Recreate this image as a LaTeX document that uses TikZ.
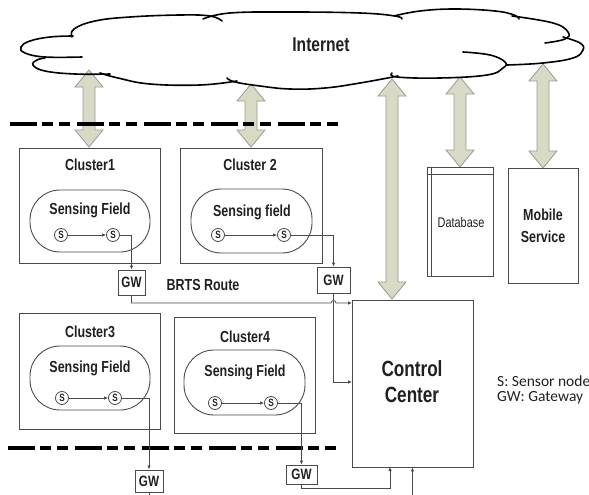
\documentclass[tikz,border=0pt]{standalone}
\usepackage{fontspec}
\setmainfont{Liberation Sans}
\newfontfamily\narrowsf[FakeStretch=0.78]{Liberation Sans}
\newfontfamily\legendsf{Carlito}
\usetikzlibrary{calc,arrows.meta}

\definecolor{boxgray}{HTML}{4A4A4A}
\definecolor{inkgray}{HTML}{202020}
\definecolor{fatfill}{HTML}{D8DAC6}
\definecolor{fatedge}{HTML}{9A9B90}

% vertical double-headed block arrow between two tip points (#1 upper, #2 lower)
\newcommand\fatarrow[2]{%
  \draw[fatarrow] let \p1=(#1), \p2=(#2) in
    (\x1,\y1) -- (\x1+14pt,\y1-17pt) -- (\x1+6pt,\y1-17pt) -- (\x1+6pt,\y2+17pt)
    -- (\x1+14pt,\y2+17pt) -- (\x1,\y2) -- (\x1-14pt,\y2+17pt) -- (\x1-6pt,\y2+17pt)
    -- (\x1-6pt,\y1-17pt) -- (\x1-14pt,\y1-17pt) -- cycle;}

\tikzset{
  fatarrow/.style={fill=fatfill, draw=fatedge, line width=0.8pt, line join=miter},
  cloudline/.style={draw=black, line width=1.6pt, line cap=round},
  boundary/.style={draw=black, line width=4.5pt,
    dash pattern=on 27pt off 5pt on 11pt off 6pt on 11pt off 7pt},
  box/.style={draw=boxgray, line width=0.9pt, rectangle, inner sep=0pt},
  field/.style={draw=boxgray, line width=0.9pt, rectangle, rounded corners=30pt, inner sep=0pt},
  sensor/.style={draw=boxgray, line width=0.8pt, circle, minimum size=13pt, inner sep=0pt,
    font=\narrowsf\bfseries\fontsize{10.5}{10.5}\selectfont, text=inkgray},
  gwbox/.style={box, font=\narrowsf\bfseries\fontsize{15}{15}\selectfont, text=inkgray},
  lbl/.style={font=\narrowsf\bfseries\fontsize{16}{18}\selectfont, text=inkgray, inner sep=0pt},
  link/.style={draw=boxgray, line width=0.8pt},
  tip/.style={-{Latex[length=4pt,width=3.5pt]}},
}

\begin{document}
\begin{tikzpicture}[x=1pt, y=-1pt]
\useasboundingbox (0,0) rectangle (589,495);

% ---- block arrows to and from the Internet ----
\coordinate (t1) at (89,70);   \coordinate (b1) at (89,147);
\coordinate (t2) at (251,84);  \coordinate (b2) at (251,147);
\coordinate (t3) at (392,79);  \coordinate (b3) at (392,299);
\coordinate (t4) at (460,77);  \coordinate (b4) at (460,167);
\coordinate (t5) at (543,64);  \coordinate (b5) at (543,168);
\fatarrow{t1}{b1}
\fatarrow{t2}{b2}
\fatarrow{t3}{b3}
\fatarrow{t4}{b4}
\fatarrow{t5}{b5}

% ---- Internet cloud, drawn as overlapping lobes ----
\draw[cloudline] plot[smooth, tension=0.7] coordinates {(110,74) (75,74) (45,71) (33,65) (37,60) (45,58)};
\draw[cloudline] plot[smooth, tension=0.7] coordinates {(82,57) (45,57) (25,53) (21,47) (30,41) (50,37) (73,36)};
\draw[cloudline] plot[smooth, tension=0.7] coordinates {(72,37) (74,29) (95,21) (130,17) (180,15) (210,16) (222,21)};
\draw[cloudline] plot[smooth, tension=0.7] coordinates {(203,19) (230,13) (290,12) (360,13) (395,16) (402,19)};
\draw[cloudline] plot[smooth, tension=0.7] coordinates {(394,16) (420,11) (455,9) (495,11) (514,15) (519,19)};
\draw[cloudline] plot[smooth, tension=0.7] coordinates {(512,16) (553,23) (568,32) (565,39) (545,43)};
\draw[cloudline] plot[smooth, tension=0.7] coordinates {(563,37) (580,43) (583,50) (573,58) (543,63) (507,65)};
\draw[cloudline] plot[smooth, tension=0.7] coordinates {(463,52) (490,55) (505,62) (503,68) (487,75) (440,78) (397,77) (392,73)};
\draw[cloudline] plot[smooth, tension=0.7] coordinates {(398,76) (360,83) (325,88) (290,89) (260,86) (235,82) (227,78)};
\draw[cloudline] plot[smooth, tension=0.7] coordinates {(237,81) (200,85) (150,84) (118,78) (100,73)};
\node[font=\narrowsf\bfseries\fontsize{20}{20}\selectfont, text=inkgray] (internet) at (321,45) {Internet};

% ---- field boundaries ----
\draw[boundary] (10,124) -- (342,124);
\draw[boundary] (8,448) -- (342,448);

% ---- clusters ----
\node[box, minimum width=141pt, minimum height=115pt] (c1) at (89.5,205.5) {};
\node[box, minimum width=142pt, minimum height=115pt] (c2) at (251,205.5) {};
\node[box, minimum width=141pt, minimum height=116pt] (c3) at (89.5,371) {};
\node[box, minimum width=141pt, minimum height=116pt] (c4) at (244.5,375) {};
\node[lbl] (c1t) at (90,165) {Cluster1};
\node[lbl] (c2t) at (250,165) {Cluster 2};
\node[lbl] (c3t) at (90,332) {Cluster3};
\node[lbl] (c4t) at (245,337) {Cluster4};

\node[field, minimum width=120pt, minimum height=62pt] (f1) at (90,221) {};
\node[field, minimum width=121pt, minimum height=64pt] (f2) at (251.5,221) {};
\node[field, minimum width=120pt, minimum height=64pt] (f3) at (90,378) {};
\node[field, minimum width=121pt, minimum height=65pt] (f4) at (244.5,382.5) {};
\node[lbl] (f1t) at (90,210) {Sensing Field};
\node[lbl] (f2t) at (252,212) {Sensing field};
\node[lbl] (f3t) at (90,368) {Sensing Field};
\node[lbl] (f4t) at (245,372) {Sensing Field};

\node[sensor] (s11) at (61,235) {S};
\node[sensor] (s12) at (113,235) {S};
\node[sensor] (s21) at (218,235) {S};
\node[sensor] (s22) at (284,235) {S};
\node[sensor] (s31) at (62,398) {S};
\node[sensor] (s32) at (115,398) {S};
\node[sensor] (s41) at (215,403) {S};
\node[sensor] (s42) at (271,403) {S};

% ---- gateways ----
\node[gwbox, minimum width=27pt, minimum height=25pt] (gw1) at (131.5,282.5) {GW};
\node[gwbox, minimum width=33pt, minimum height=26pt] (gw2) at (333.5,280) {GW};
\node[gwbox, minimum width=28pt, minimum height=22pt] (gw3) at (149,481) {GW};
\node[gwbox, minimum width=31pt, minimum height=19pt] (gw4) at (301.5,474.5) {GW};
\node[lbl] (brts) at (203,285) {BRTS Route};

% ---- right-hand blocks ----
\node[box, minimum width=121pt, minimum height=167pt] (cc) at (412.5,383.5) {};
\node[font=\narrowsf\bfseries\fontsize{22}{26}\selectfont, text=inkgray, align=center] (cct) at (412,382) {Control\\Center};
\node[box, minimum width=66pt, minimum height=109pt] (db) at (460,221.5) {};
\draw[link] ($(db.north west)+(0,8)$) -- ($(db.north east)+(0,8)$);
\draw[link] ($(db.north west)+(5,0)$) -- ($(db.south west)+(5,0)$);
\node[font=\narrowsf\fontsize{14}{14}\selectfont, text=inkgray] (dbt) at (461,222) {Database};
\node[box, minimum width=70pt, minimum height=115pt] (ms) at (543,225.5) {};
\node[font=\narrowsf\bfseries\fontsize{16}{22}\selectfont, text=inkgray, align=center] (mst) at (543,226) {Mobile\\Service};

% ---- legend ----
\node[font=\legendsf\fontsize{15.5}{17}\selectfont, text=inkgray, anchor=west, inner sep=0pt] (lg1) at (497,381) {S: Sensor node};
\node[font=\legendsf\fontsize{15.5}{17}\selectfont, text=inkgray, anchor=west, inner sep=0pt] (lg2) at (497,398) {GW: Gateway};

% ---- sensor links ----
\draw[link, tip] (s11) -- (s12);
\draw[link, tip] (s21) -- (s22);
\draw[link, tip] (s31) -- (s32);
\draw[link, tip] (s41) -- (s42);
\draw[link, tip] (s12.east) -| (gw1.north);
\draw[link, tip] (s22.east) -| (gw2.north);
\draw[link, tip] (s32.east) -| (gw3.north);
\draw[link, tip] (s42.east) -| (gw4.north);

% ---- gateway routes to the control center ----
\coordinate (in1) at (352,303);
\coordinate (in2) at (352,382);
\coordinate (in4) at (390,467);
\coordinate (feed) at (412.5,495);
\coordinate (gw3out) at (149,495);
\draw[link, tip] (gw1.south) |- (331,303) arc[start angle=180, end angle=0, radius=2.5pt] -- (in1);
\draw[link, tip] (gw2.south) |- (in2);
\draw[link, tip] (gw4.south) -- ++(0,4) -| (in4);
\draw[link, tip] (feed) -- (cc.south);
\draw[link] (gw3.south) -- (gw3out);
\end{tikzpicture}
\end{document}
